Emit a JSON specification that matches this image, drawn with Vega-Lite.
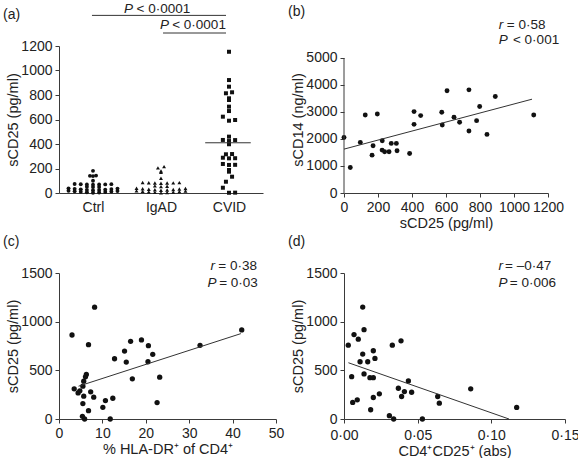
{
  "$schema": "https://vega.github.io/schema/vega-lite/v6.json",
  "background": "white",
  "padding": {"left": 2, "top": 1, "right": 0, "bottom": 0},
  "bounds": "flush",
  "columns": 2,
  "spacing": {"row": 80, "column": 68},
  "config": {
    "font": "Liberation Sans",
    "view": {"stroke": null},
    "axis": {"grid": false, "domainColor": "#3a3a3a", "tickColor": "#3a3a3a", "labelColor": "#222", "titleColor": "#222", "labelFontSize": 14, "titleFontSize": 14.5, "titleFontWeight": "normal", "tickSize": 4, "labelFlush": false, "labelOverlap": false, "labelFont": "Liberation Sans", "titleFont": "Liberation Sans"},
    "axisY": {"labelPadding": 3, "titlePadding": 0},
    "axisX": {"labelPadding": 3, "titlePadding": 2},
    "text": {"font": "Liberation Sans", "fontSize": 13.5, "color": "#222", "baseline": "middle", "align": "left"},
    "rule": {"color": "#333", "strokeWidth": 1}
  },
  "concat": [
    {
      "width": 204,
      "height": 147,
      "layer": [
        {
          "data": {"values": [
            {"g": "Ctrl", "v": 181}, {"g": "Ctrl", "v": 140}, {"g": "Ctrl", "v": 142}, {"g": "Ctrl", "v": 138}, {"g": "Ctrl", "v": 100},
            {"g": "Ctrl", "v": 70}, {"g": "Ctrl", "v": 71}, {"g": "Ctrl", "v": 69}, {"g": "Ctrl", "v": 72}, {"g": "Ctrl", "v": 68}, {"g": "Ctrl", "v": 73}, {"g": "Ctrl", "v": 70},
            {"g": "Ctrl", "v": 50}, {"g": "Ctrl", "v": 48}, {"g": "Ctrl", "v": 52},
            {"g": "Ctrl", "v": 22}, {"g": "Ctrl", "v": 24}, {"g": "Ctrl", "v": 26}, {"g": "Ctrl", "v": 28}, {"g": "Ctrl", "v": 30}, {"g": "Ctrl", "v": 32}, {"g": "Ctrl", "v": 34}, {"g": "Ctrl", "v": 36}, {"g": "Ctrl", "v": 38},
            {"g": "Ctrl", "v": 2}, {"g": "Ctrl", "v": 4}, {"g": "Ctrl", "v": 6}, {"g": "Ctrl", "v": 8}, {"g": "Ctrl", "v": 10}, {"g": "Ctrl", "v": 12}, {"g": "Ctrl", "v": 14}, {"g": "Ctrl", "v": 16}, {"g": "Ctrl", "v": 18},
            {"g": "IgAD", "v": 215}, {"g": "IgAD", "v": 205}, {"g": "IgAD", "v": 180}, {"g": "IgAD", "v": 170}, {"g": "IgAD", "v": 120},
            {"g": "IgAD", "v": 80}, {"g": "IgAD", "v": 81}, {"g": "IgAD", "v": 82}, {"g": "IgAD", "v": 83}, {"g": "IgAD", "v": 84}, {"g": "IgAD", "v": 85}, {"g": "IgAD", "v": 86},
            {"g": "IgAD", "v": 55}, {"g": "IgAD", "v": 52}, {"g": "IgAD", "v": 58},
            {"g": "IgAD", "v": 22}, {"g": "IgAD", "v": 25}, {"g": "IgAD", "v": 27}, {"g": "IgAD", "v": 29}, {"g": "IgAD", "v": 31}, {"g": "IgAD", "v": 33}, {"g": "IgAD", "v": 35}, {"g": "IgAD", "v": 37}, {"g": "IgAD", "v": 39},
            {"g": "IgAD", "v": 1}, {"g": "IgAD", "v": 3}, {"g": "IgAD", "v": 5}, {"g": "IgAD", "v": 7}, {"g": "IgAD", "v": 9}, {"g": "IgAD", "v": 11}, {"g": "IgAD", "v": 13}, {"g": "IgAD", "v": 15}, {"g": "IgAD", "v": 17},
            {"g": "CVID", "v": 1153}, {"g": "CVID", "v": 922}, {"g": "CVID", "v": 868}, {"g": "CVID", "v": 814}, {"g": "CVID", "v": 822},
            {"g": "CVID", "v": 759}, {"g": "CVID", "v": 773}, {"g": "CVID", "v": 669}, {"g": "CVID", "v": 705}, {"g": "CVID", "v": 596},
            {"g": "CVID", "v": 590}, {"g": "CVID", "v": 623}, {"g": "CVID", "v": 460}, {"g": "CVID", "v": 432}, {"g": "CVID", "v": 424},
            {"g": "CVID", "v": 433}, {"g": "CVID", "v": 398}, {"g": "CVID", "v": 316}, {"g": "CVID", "v": 283}, {"g": "CVID", "v": 288},
            {"g": "CVID", "v": 318}, {"g": "CVID", "v": 284}, {"g": "CVID", "v": 229}, {"g": "CVID", "v": 237}, {"g": "CVID", "v": 230},
            {"g": "CVID", "v": 188}, {"g": "CVID", "v": 133}, {"g": "CVID", "v": 174}, {"g": "CVID", "v": 92}, {"g": "CVID", "v": 43},
            {"g": "CVID", "v": 2}, {"g": "CVID", "v": 3}
          ]},
          "transform": [
            {"calculate": "floor(datum.v / (datum.g == 'CVID' ? 45 : 20))", "as": "vb"},
            {"window": [{"op": "row_number", "as": "rn"}], "groupby": ["g", "vb"], "sort": [{"field": "v"}]},
            {"joinaggregate": [{"op": "count", "as": "n"}], "groupby": ["g", "vb"]},
            {"calculate": "indexof(['Ctrl','IgAD','CVID'], datum.g) + 0.5 + ((datum.rn % 2 == 0 ? 1 : -1) * floor(datum.rn / 2) + (datum.n % 2 == 0 ? -0.5 : 0)) * 0.09", "as": "xpos"}
          ],
          "mark": {"type": "point", "filled": true, "opacity": 1, "color": "#111"},
          "encoding": {
            "x": {"field": "xpos", "type": "quantitative", "scale": {"domain": [0, 3], "nice": false}, "axis": {"values": [0.5, 1.5, 2.5], "tickCount": 20, "labelExpr": "datum.value == 0.5 ? 'Ctrl' : datum.value == 1.5 ? 'IgAD' : 'CVID'", "ticks": false, "title": null, "labelPadding": 7, "labelOverlap": false}},
            "y": {"field": "v", "type": "quantitative", "scale": {"domain": [0, 1200], "nice": false}, "axis": {"values": [0, 200, 400, 600, 800, 1000, 1200], "tickCount": 20, "format": "d", "title": "sCD25 (pg/ml)", "labelOverlap": false}},
            "shape": {"field": "g", "type": "nominal", "scale": {"domain": ["Ctrl", "IgAD", "CVID"], "range": ["circle", "triangle-up", "square"]}, "legend": null},
            "size": {"field": "g", "type": "nominal", "scale": {"domain": ["Ctrl", "IgAD", "CVID"], "range": [15, 16, 20]}, "legend": null}
          }
        },
        {"data": {"values": [{}]}, "mark": "rule", "encoding": {"x": {"datum": 2.15}, "x2": {"datum": 2.82}, "y": {"datum": 410}}},
        {"data": {"values": [{}]}, "mark": "rule", "encoding": {"x": {"datum": 0.485}, "x2": {"datum": 2.456}, "y": {"datum": 1450}}},
        {"data": {"values": [{}]}, "mark": "rule", "encoding": {"x": {"datum": 1.53}, "x2": {"datum": 2.456}, "y": {"datum": 1306}}},
        {"data": {"values": [{}]}, "mark": {"type": "text", "text": "P", "fontStyle": "italic"}, "encoding": {"x": {"datum": 0.956}, "y": {"datum": 1505}}},
        {"data": {"values": [{}]}, "mark": {"type": "text", "text": "< 0·0001"}, "encoding": {"x": {"datum": 1.14}, "y": {"datum": 1505}}},
        {"data": {"values": [{}]}, "mark": {"type": "text", "text": "P", "fontStyle": "italic"}, "encoding": {"x": {"datum": 1.485}, "y": {"datum": 1372}}},
        {"data": {"values": [{}]}, "mark": {"type": "text", "text": "< 0·0001"}, "encoding": {"x": {"datum": 1.665}, "y": {"datum": 1372}}},
        {"data": {"values": [{}]}, "mark": {"type": "text", "text": "(a)", "fontSize": 14}, "encoding": {"x": {"datum": -0.824}, "y": {"datum": 1450}}}
      ]
    },
    {
      "width": 204,
      "height": 147,
      "layer": [
        {
          "data": {"values": [
            {"sCD25": 0, "sCD14": 2060}, {"sCD25": 37, "sCD14": 943}, {"sCD25": 96, "sCD14": 1873}, {"sCD25": 125, "sCD14": 2891},
            {"sCD25": 165, "sCD14": 1402}, {"sCD25": 171, "sCD14": 1749}, {"sCD25": 196, "sCD14": 2928}, {"sCD25": 225, "sCD14": 1935},
            {"sCD25": 224, "sCD14": 1588}, {"sCD25": 239, "sCD14": 1526}, {"sCD25": 265, "sCD14": 1526}, {"sCD25": 278, "sCD14": 1836},
            {"sCD25": 308, "sCD14": 1836}, {"sCD25": 312, "sCD14": 1563}, {"sCD25": 386, "sCD14": 1464}, {"sCD25": 412, "sCD14": 3015},
            {"sCD25": 412, "sCD14": 2543}, {"sCD25": 451, "sCD14": 2866}, {"sCD25": 575, "sCD14": 2990}, {"sCD25": 578, "sCD14": 2519},
            {"sCD25": 606, "sCD14": 3784}, {"sCD25": 647, "sCD14": 2804}, {"sCD25": 680, "sCD14": 2618}, {"sCD25": 735, "sCD14": 3821},
            {"sCD25": 735, "sCD14": 2295}, {"sCD25": 780, "sCD14": 2680}, {"sCD25": 798, "sCD14": 3201}, {"sCD25": 841, "sCD14": 2171},
            {"sCD25": 890, "sCD14": 3573}, {"sCD25": 1116, "sCD14": 2891}
          ]},
          "mark": {"type": "circle", "opacity": 1, "color": "#111", "size": 24},
          "encoding": {
            "x": {"field": "sCD25", "type": "quantitative", "scale": {"domain": [0, 1200], "nice": false}, "axis": {"values": [0, 200, 400, 600, 800, 1000, 1200], "tickCount": 20, "format": "d", "title": "sCD25  (pg/ml)", "labelOverlap": false}},
            "y": {"field": "sCD14", "type": "quantitative", "scale": {"domain": [0, 5444], "nice": false}, "axis": {"values": [0, 1000, 2000, 3000, 4000, 5000], "tickCount": 20, "format": "d", "domain": false, "title": "sCD14 (ng/ml)", "labelOverlap": false}}
          }
        },
        {"data": {"values": [{}]}, "mark": {"type": "rule", "color": "#3a3a3a"}, "encoding": {"x": {"datum": 0}, "y": {"datum": 0}, "y2": {"datum": 5000}}},
        {"data": {"values": [{}]}, "mark": "rule", "encoding": {"x": {"datum": 0}, "y": {"datum": 1625}, "x2": {"datum": 1106}, "y2": {"datum": 3474}}},
        {"data": {"values": [{}]}, "mark": {"type": "text", "text": "r", "fontStyle": "italic"}, "encoding": {"x": {"datum": 911}, "y": {"datum": 6208}}},
        {"data": {"values": [{}]}, "mark": {"type": "text", "text": "= 0·58"}, "encoding": {"x": {"datum": 958}, "y": {"datum": 6208}}},
        {"data": {"values": [{}]}, "mark": {"type": "text", "text": "P", "fontStyle": "italic"}, "encoding": {"x": {"datum": 911}, "y": {"datum": 5679}}},
        {"data": {"values": [{}]}, "mark": {"type": "text", "text": "< 0·001"}, "encoding": {"x": {"datum": 994}, "y": {"datum": 5679}}},
        {"data": {"values": [{}]}, "mark": {"type": "text", "text": "(b)", "fontSize": 14}, "encoding": {"x": {"datum": -329}, "y": {"datum": 6690}}}
      ]
    },
    {
      "width": 217,
      "height": 146,
      "layer": [
        {
          "data": {"values": [
            {"hla": 3.0, "sCD25": 863}, {"hla": 8.2, "sCD25": 1149}, {"hla": 6.8, "sCD25": 764}, {"hla": 6.3, "sCD25": 457},
            {"hla": 6.1, "sCD25": 433}, {"hla": 5.7, "sCD25": 389}, {"hla": 5.5, "sCD25": 337}, {"hla": 3.5, "sCD25": 310},
            {"hla": 4.4, "sCD25": 268}, {"hla": 5.7, "sCD25": 234}, {"hla": 7.3, "sCD25": 279}, {"hla": 8.0, "sCD25": 224},
            {"hla": 5.5, "sCD25": 158}, {"hla": 6.8, "sCD25": 86}, {"hla": 5.4, "sCD25": 28}, {"hla": 5.9, "sCD25": 0},
            {"hla": 10.1, "sCD25": 120}, {"hla": 10.7, "sCD25": 189}, {"hla": 12.4, "sCD25": 213}, {"hla": 11.8, "sCD25": 0},
            {"hla": 12.8, "sCD25": 619}, {"hla": 15.1, "sCD25": 698}, {"hla": 15.5, "sCD25": 585}, {"hla": 16.5, "sCD25": 798},
            {"hla": 16.9, "sCD25": 413}, {"hla": 19.0, "sCD25": 812}, {"hla": 20.6, "sCD25": 753}, {"hla": 20.5, "sCD25": 588},
            {"hla": 21.6, "sCD25": 664}, {"hla": 23.2, "sCD25": 430}, {"hla": 22.6, "sCD25": 169}, {"hla": 32.5, "sCD25": 757},
            {"hla": 42.1, "sCD25": 915}, {"hla": 4.8, "sCD25": 290}
          ]},
          "mark": {"type": "circle", "opacity": 1, "color": "#111", "size": 28},
          "encoding": {
            "x": {"field": "hla", "type": "quantitative", "scale": {"domain": [0, 50], "nice": false}, "axis": {"values": [0, 10, 20, 30, 40, 50], "tickCount": 20, "title": "% HLA-DR⁺ of CD4⁺", "labelOverlap": false}},
            "y": {"field": "sCD25", "type": "quantitative", "scale": {"domain": [0, 1500], "nice": false}, "axis": {"values": [0, 500, 1000, 1500], "tickCount": 20, "format": "d", "title": "sCD25 (pg/ml)", "labelOverlap": false}}
          }
        },
        {"data": {"values": [{}]}, "mark": "rule", "encoding": {"x": {"datum": 4.5}, "y": {"datum": 337}, "x2": {"datum": 41.9}, "y2": {"datum": 877}}},
        {"data": {"values": [{}]}, "mark": {"type": "text", "text": "r", "fontStyle": "italic"}, "encoding": {"x": {"datum": 34.9}, "y": {"datum": 1574}}},
        {"data": {"values": [{}]}, "mark": {"type": "text", "text": "= 0·38"}, "encoding": {"x": {"datum": 36.7}, "y": {"datum": 1574}}},
        {"data": {"values": [{}]}, "mark": {"type": "text", "text": "P", "fontStyle": "italic"}, "encoding": {"x": {"datum": 34.2}, "y": {"datum": 1400}}},
        {"data": {"values": [{}]}, "mark": {"type": "text", "text": "= 0·03"}, "encoding": {"x": {"datum": 36.9}, "y": {"datum": 1400}}},
        {"data": {"values": [{}]}, "mark": {"type": "text", "text": "(c)", "fontSize": 14}, "encoding": {"x": {"datum": -12.9}, "y": {"datum": 1818}}}
      ]
    },
    {
      "width": 221,
      "height": 146,
      "layer": [
        {
          "data": {"values": [
            {"cd4cd25": 0.0029, "sCD25": 758}, {"cd4cd25": 0.0052, "sCD25": 435}, {"cd4cd25": 0.0059, "sCD25": 170}, {"cd4cd25": 0.0068, "sCD25": 867},
            {"cd4cd25": 0.0090, "sCD25": 197}, {"cd4cd25": 0.0097, "sCD25": 820}, {"cd4cd25": 0.0109, "sCD25": 588}, {"cd4cd25": 0.0127, "sCD25": 1150},
            {"cd4cd25": 0.0127, "sCD25": 667}, {"cd4cd25": 0.0136, "sCD25": 918}, {"cd4cd25": 0.0136, "sCD25": 463}, {"cd4cd25": 0.0161, "sCD25": 588},
            {"cd4cd25": 0.0176, "sCD25": 425}, {"cd4cd25": 0.0181, "sCD25": 95}, {"cd4cd25": 0.0199, "sCD25": 425}, {"cd4cd25": 0.0199, "sCD25": 701},
            {"cd4cd25": 0.0199, "sCD25": 221}, {"cd4cd25": 0.0210, "sCD25": 622}, {"cd4cd25": 0.0240, "sCD25": 259}, {"cd4cd25": 0.0308, "sCD25": 34},
            {"cd4cd25": 0.0337, "sCD25": 0}, {"cd4cd25": 0.0328, "sCD25": 758}, {"cd4cd25": 0.0387, "sCD25": 803}, {"cd4cd25": 0.0369, "sCD25": 316},
            {"cd4cd25": 0.0391, "sCD25": 231}, {"cd4cd25": 0.0410, "sCD25": 282}, {"cd4cd25": 0.0437, "sCD25": 391}, {"cd4cd25": 0.0459, "sCD25": 275},
            {"cd4cd25": 0.0532, "sCD25": 0}, {"cd4cd25": 0.0636, "sCD25": 231}, {"cd4cd25": 0.0647, "sCD25": 163}, {"cd4cd25": 0.0860, "sCD25": 310},
            {"cd4cd25": 0.1172, "sCD25": 119}
          ]},
          "mark": {"type": "circle", "opacity": 1, "color": "#111", "size": 28},
          "encoding": {
            "x": {"field": "cd4cd25", "type": "quantitative", "scale": {"domain": [0, 0.15], "nice": false}, "axis": {"values": [0, 0.05, 0.1, 0.15], "tickCount": 20, "labelExpr": "replace(format(datum.value, '.2f'), '.', '·')", "title": "CD4⁺CD25⁺ (abs)", "labelOverlap": false, "labelPadding": 5}},
            "y": {"field": "sCD25", "type": "quantitative", "scale": {"domain": [0, 1500], "nice": false}, "axis": {"values": [0, 500, 1000, 1500], "tickCount": 20, "format": "d", "title": "sCD25 (pg/ml)", "labelOverlap": false}}
          }
        },
        {"data": {"values": [{}]}, "mark": "rule", "encoding": {"x": {"datum": 0.003}, "y": {"datum": 578}, "x2": {"datum": 0.112}, "y2": {"datum": 0}}},
        {"data": {"values": [{}]}, "mark": {"type": "text", "text": "r", "fontStyle": "italic"}, "encoding": {"x": {"datum": 0.1048}, "y": {"datum": 1571}}},
        {"data": {"values": [{}]}, "mark": {"type": "text", "text": "= –0·47"}, "encoding": {"x": {"datum": 0.1093}, "y": {"datum": 1571}}},
        {"data": {"values": [{}]}, "mark": {"type": "text", "text": "P", "fontStyle": "italic"}, "encoding": {"x": {"datum": 0.1048}, "y": {"datum": 1400}}},
        {"data": {"values": [{}]}, "mark": {"type": "text", "text": "= 0·006"}, "encoding": {"x": {"datum": 0.1125}, "y": {"datum": 1400}}},
        {"data": {"values": [{}]}, "mark": {"type": "text", "text": "(d)", "fontSize": 14}, "encoding": {"x": {"datum": -0.038}, "y": {"datum": 1818}}}
      ]
    }
  ]
}
